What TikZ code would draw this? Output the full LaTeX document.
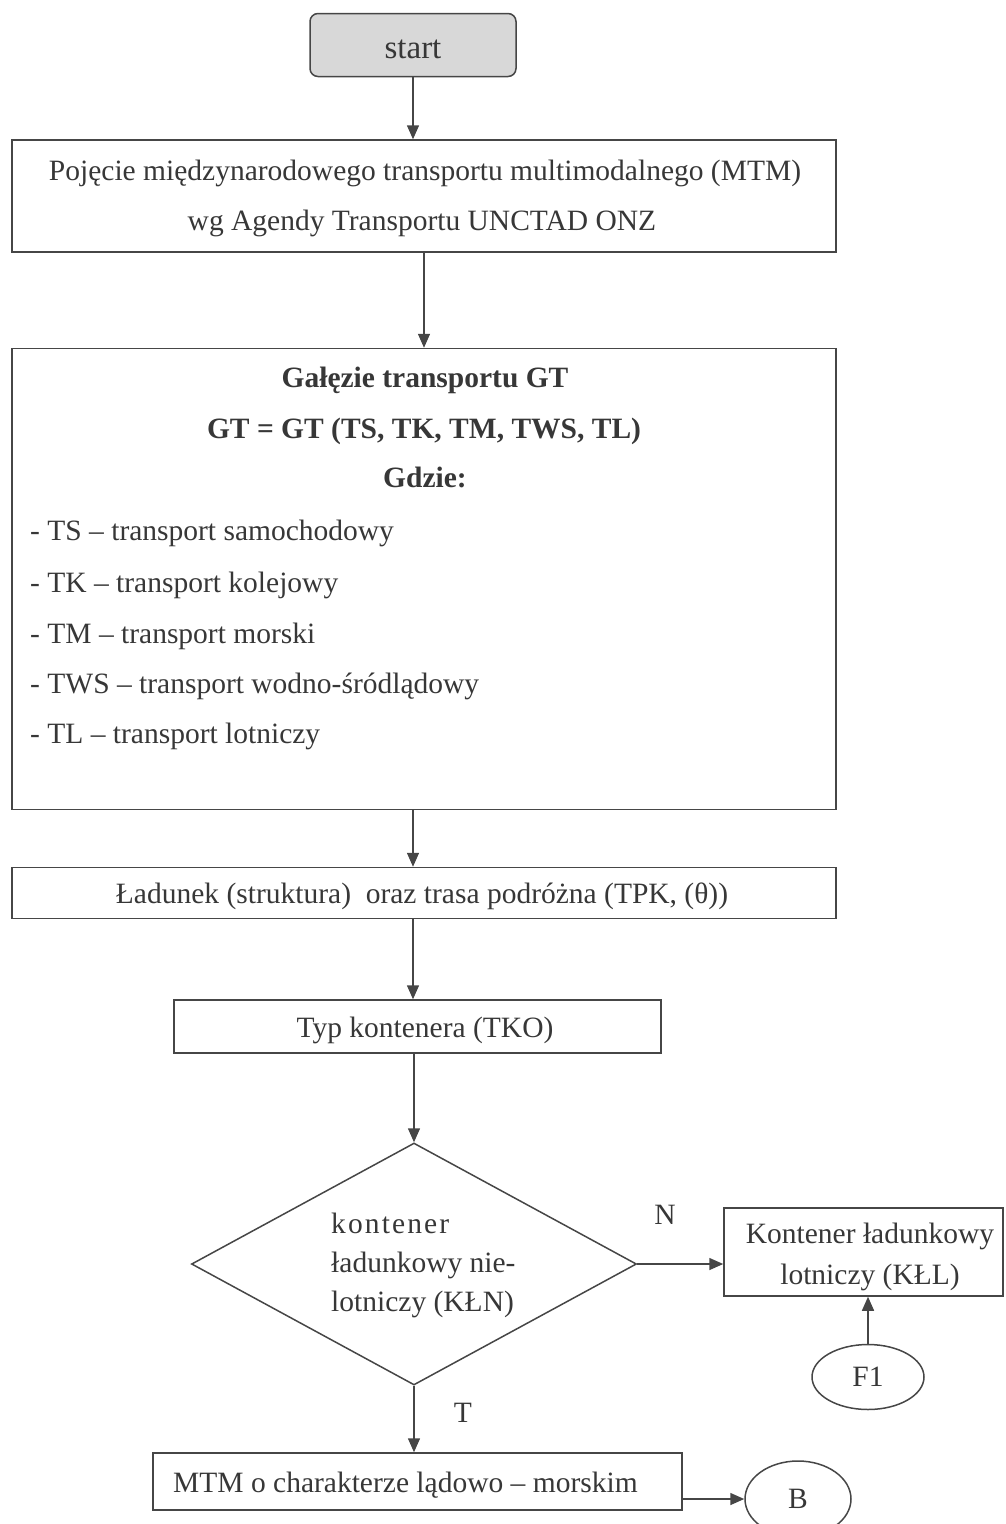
\documentclass[tikz,border=0pt]{standalone}
\usepackage{fontspec}
\setmainfont{Liberation Serif}
\usetikzlibrary{shapes.geometric,arrows.meta}
\definecolor{ink}{RGB}{55,55,55}
\definecolor{edge}{RGB}{70,70,70}
\definecolor{startfill}{RGB}{216,216,216}
\begin{document}
\begin{tikzpicture}[x=1pt,y=-1pt,
  every node/.style={font=\fontsize{29.5}{40}\selectfont, text=ink},
  box/.style={draw=edge, line width=1.5pt, rectangle, inner sep=0pt},
  arr/.style={draw=edge, line width=1.5pt, -{Triangle[length=14pt,width=12pt]}},
  txt/.style={inner sep=0pt, anchor=base},
  ltxt/.style={inner sep=0pt, anchor=base west}
]
\useasboundingbox (0,0) rectangle (1006,1524);

% start
\node[box, rounded corners=8pt, fill=startfill, minimum width=206pt, minimum height=63pt] (start) at (413,45) {};
\node[txt, font=\fontsize{33}{40}\selectfont] (starttxt) at (413,58) {start};

% box 1
\node[box, minimum width=824pt, minimum height=112pt] (b1) at (424,196) {};
\node[txt] (b1a) at (425,180) {Pojęcie międzynarodowego transportu multimodalnego (MTM)};
\node[txt] (b1b) at (422,230) {wg Agendy Transportu UNCTAD ONZ};

% box 2
\node[box, minimum width=824pt, minimum height=461pt] (b2) at (424,579) {};
\node[txt, font=\fontsize{29.5}{40}\selectfont\bfseries] (b2t1) at (425,387) {Gałęzie transportu GT};
\node[txt, font=\fontsize{29.5}{40}\selectfont\bfseries] (b2t2) at (424,438) {GT = GT (TS, TK, TM, TWS, TL)};
\node[txt, font=\fontsize{29.5}{40}\selectfont\bfseries] (b2t3) at (425,487) {Gdzie:};
\node[ltxt] (l1) at (30,540) {- TS – transport samochodowy};
\node[ltxt] (l2) at (30,592) {- TK – transport kolejowy};
\node[ltxt] (l3) at (30,643) {- TM – transport morski};
\node[ltxt] (l4) at (30,693) {- TWS – transport wodno-śródlądowy};
\node[ltxt] (l5) at (30,743) {- TL – transport lotniczy};

% box 3
\node[box, minimum width=824pt, minimum height=51pt] (b3) at (424,893) {};
\node[txt] (b3t) at (422,903) {Ładunek (struktura)\ \ oraz trasa podróżna (TPK, (θ))};

% box 4
\node[box, minimum width=487pt, minimum height=53pt] (b4) at (417.5,1026.5) {};
\node[txt] (b4t) at (425,1037) {Typ kontenera (TKO)};

% decision
\node[draw=edge, line width=1.5pt, shape=diamond, inner sep=0pt, minimum width=445pt, minimum height=242pt] (dec) at (414,1264) {};
\node[anchor=west, align=left, inner sep=0pt, font=\fontsize{29.5}{39}\selectfont] (dect) at (331,1265) {\makebox[118pt][s]{k\hfill o\hfill n\hfill t\hfill e\hfill n\hfill e\hfill r}\\ładunkowy nie-\\lotniczy (KŁN)};

% right branch
\node[box, minimum width=279pt, minimum height=88pt] (kll) at (863.5,1252) {};
\node[align=center, inner sep=0pt, font=\fontsize{29.5}{41}\selectfont] (kllt) at (870,1257) {Kontener ładunkowy\\lotniczy (KŁL)};
\node[draw=edge, line width=1.5pt, shape=ellipse, inner sep=0pt, minimum width=112pt, minimum height=65pt] (f1) at (868,1377) {F1};

% bottom
\node[box, minimum width=529pt, minimum height=57pt] (b5) at (417.5,1481.5) {};
\node[ltxt] (b5t) at (173,1492) {MTM o charakterze lądowo – morskim};
\node[draw=edge, line width=1.5pt, shape=ellipse, inner sep=0pt, minimum width=106pt, minimum height=76pt] (bb) at (798,1499) {B};

% labels
\node (lN) at (665,1215) {N};
\node (lT) at (463,1413) {T};

% connectors
\draw[arr] (start.south) -- (b1.north -| start.south);
\draw[arr] (b1.south) -- (b2.north);
\draw[arr] (b2.south -| start.south) -- (b3.north -| start.south);
\draw[arr] (b3.south -| start.south) -- (b4.north -| start.south);
\draw[arr] (b4.south -| dec.north) -- (dec.north);
\draw[arr] (dec.south) -- (dec.south |- b5.north);
\draw[arr] (dec.east) -- (dec.east -| kll.west);
\draw[arr] (f1.north) -- (f1.north |- kll.south);
\draw[arr] (b5.east |- bb.west) -- (bb.west);
\end{tikzpicture}
\end{document}
